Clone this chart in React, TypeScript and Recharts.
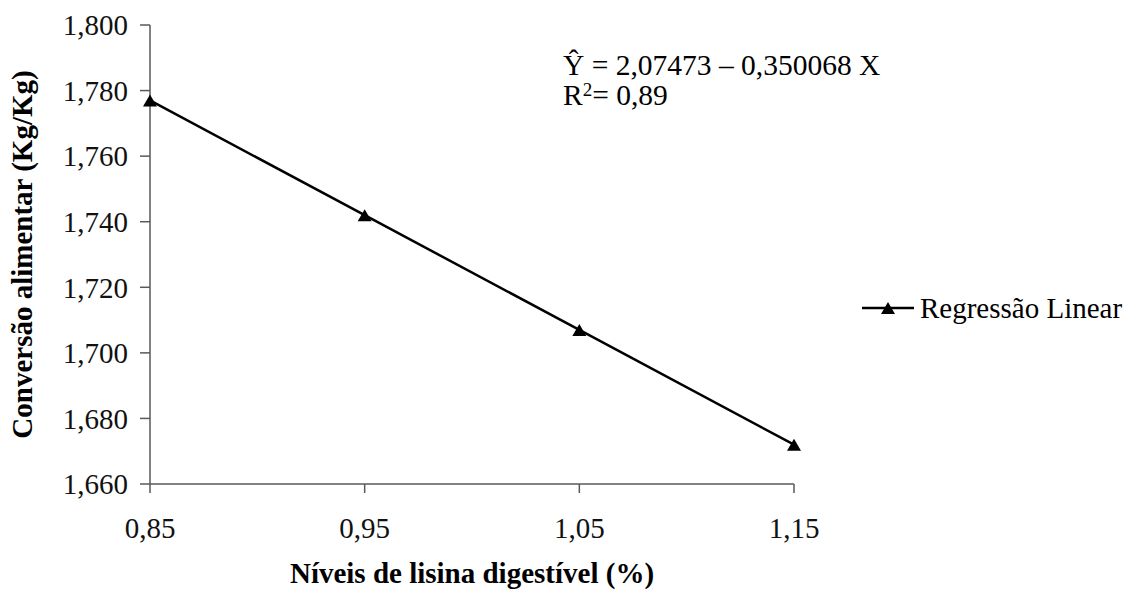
import { Line, LineChart, XAxis, YAxis, Legend } from 'recharts';

const levels = [0.85, 0.95, 1.05, 1.15];
const conversion = [1.777, 1.742, 1.707, 1.672];
const xTicks = [0.85, 0.95, 1.05, 1.15];
const yTicks = [1.66, 1.68, 1.7, 1.72, 1.74, 1.76, 1.78, 1.8];

const seriesName = 'Regressão Linear';
const equation = 'Ŷ = 2,07473 – 0,350068 X';
const rSquared = '0,89';

const font = 'Liberation Serif';
const axisColor = '#595959';

const data = levels.map((x, i) => ({ x, y: conversion[i] }));

const Triangle = (props: any): React.ReactElement => {
  const { cx, cy } = props;
  if (cx == null || cy == null) return <g />;
  return <polygon points={`${cx - 7},${cy + 6} ${cx + 7},${cy + 6} ${cx},${cy - 6}`} fill="#000" />;
};

const LegendContent = (): React.ReactElement => (
  <div style={{ display: 'flex', alignItems: 'center', fontFamily: font, fontSize: 29, lineHeight: '32px', color: '#000' }}>
    <svg width={52} height={20}>
      <line x1={0} y1={10} x2={52} y2={10} stroke="#000" strokeWidth={2.5} />
      <polygon points="19,16 33,16 26,4" fill="#000" />
    </svg>
    <span style={{ marginLeft: 6, whiteSpace: 'nowrap' }}>{seriesName}</span>
  </div>
);

const App = (): React.ReactElement => {
  return (
    <div style={{ position: 'absolute', left: 0, top: 0, width: 1125, height: 594, background: '#fff', fontFamily: font }}>
      <LineChart width={1125} height={594} data={data} margin={{ top: 25, right: 331, left: 0, bottom: 0 }}>
        <XAxis
          dataKey="x"
          type="number"
          domain={[0.85, 1.15]}
          ticks={xTicks}
          tickFormatter={(v: number) => v.toFixed(2).replace('.', ',')}
          height={110}
          stroke={axisColor}
          strokeWidth={1.5}
          tickSize={9}
          tickMargin={24}
          tick={{ fill: '#111', fontSize: 29, fontFamily: font }}
          label={{
            value: 'Níveis de lisina digestível (%)',
            position: 'insideBottom',
            offset: 11,
            style: { fill: '#000', fontSize: 29, fontWeight: 'bold', fontFamily: font },
          }}
        />
        <YAxis
          type="number"
          domain={[1.66, 1.8]}
          ticks={yTicks}
          tickFormatter={(v: number) => v.toFixed(3).replace('.', ',')}
          width={150}
          stroke={axisColor}
          strokeWidth={1.5}
          tickSize={10}
          tickMargin={12}
          tick={{ fill: '#111', fontSize: 29, fontFamily: font }}
          label={{
            value: 'Conversão alimentar (Kg/Kg)',
            angle: -90,
            position: 'insideLeft',
            offset: 22,
            style: { textAnchor: 'middle', fill: '#000', fontSize: 29, fontWeight: 'bold', fontFamily: font },
          }}
        />
        <Legend
          layout="horizontal"
          align="center"
          verticalAlign="middle"
          content={LegendContent}
          wrapperStyle={{ left: 862, top: 292, width: 263 }}
        />
        <Line
          type="linear"
          dataKey="y"
          name={seriesName}
          stroke="#000"
          strokeWidth={2.5}
          dot={<Triangle />}
          isAnimationActive={false}
        />
      </LineChart>
      <div
        style={{
          position: 'absolute',
          left: 563,
          top: 50,
          fontFamily: font,
          fontSize: 29.5,
          lineHeight: '30px',
          color: '#000',
          whiteSpace: 'nowrap',
        }}
      >
        <div>{equation}</div>
        <div>
          R<sup style={{ fontSize: 19, verticalAlign: 'top', lineHeight: '20px' }}>2</sup>= {rSquared}
        </div>
      </div>
    </div>
  );
};

export default App;
